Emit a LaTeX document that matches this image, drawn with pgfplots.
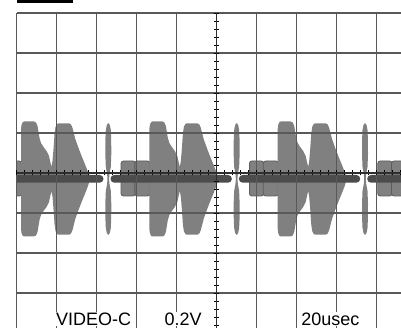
\documentclass[border=0pt]{standalone}
\usepackage{pgfplots}
\pgfplotsset{compat=1.18}
\usepackage{pgfplotstable}
\usepackage{fontspec}
\setmainfont{Liberation Sans}
\definecolor{wave}{RGB}{128,128,128}
\definecolor{band}{RGB}{76,76,76}
\definecolor{boxedge}{RGB}{92,92,92}

% one video line: burst envelope (x relative to line start, y absolute, in divisions)
\pgfplotstableread{
dx y
0 1.1
0.0125 1.2
0.0375 1.2625
0.075 1.2875
0.325 1.2875
0.375 1.2625
0.4125 1.175
0.4375 1.025
0.4625 0.875
0.5 0.75
0.5625 0.65
0.6375 0.55
0.7 0.425
0.7375 0.25
0.7625 0.15
0.7875 0.3
0.8125 0.6
0.8375 0.975
0.8625 1.15
0.9 1.225
0.9375 1.2425
1.2 1.2425
1.25 1.2125
1.2875 1.125
1.3575 0.85
1.4425 0.6125
1.525 0.4
1.6075 0.2
1.675 0.025
1.725 -0.15
1.675 -0.325
1.6075 -0.5
1.525 -0.7
1.4425 -0.9125
1.3575 -1.15
1.2875 -1.425
1.25 -1.5125
1.2 -1.5425
0.9375 -1.5425
0.9 -1.525
0.8625 -1.45
0.8375 -1.275
0.8125 -0.9
0.7875 -0.6
0.7625 -0.45
0.7375 -0.55
0.7 -0.725
0.6375 -0.85
0.5625 -0.95
0.5 -1.05
0.4625 -1.175
0.4375 -1.325
0.4125 -1.475
0.375 -1.5625
0.325 -1.5875
0.075 -1.5875
0.0375 -1.5625
0.0125 -1.5
0 -1.4
}\burst

\pgfplotstableread{
dx y
2.1825 1.25
2.22 1.2
2.245 1.075
2.255 0.85
2.2575 0.475
2.245 0.15
2.2125 -0.025
2.2025 -0.15
2.2125 -0.275
2.245 -0.45
2.2575 -0.775
2.255 -1.15
2.245 -1.375
2.22 -1.5
2.1825 -1.55
2.145 -1.5
2.12 -1.375
2.11 -1.15
2.1075 -0.775
2.12 -0.45
2.1525 -0.275
2.1625 -0.15
2.1525 -0.025
2.12 0.15
2.1075 0.475
2.11 0.85
2.12 1.075
2.145 1.2
2.1825 1.25
}\spike

\pgfplotstableread{
dx y
-0.53 0.3
-0.35 0.3
-0.35 -0.575
-0.7075 -0.575
-0.7075 0.3
-0.53 0.3
}\boxa

\pgfplotstableread{
dx y
-0.17 0.3
0.015 0.3
0.015 -0.575
-0.3625 -0.575
-0.3625 0.3
-0.17 0.3
}\boxb

\begin{document}
\begin{tikzpicture}
\useasboundingbox (0,0) rectangle (401bp,328bp);
\clip (0,0) rectangle (401bp,328bp);
\begin{axis}[
  at={(16.5bp,0bp)}, anchor=south west,
  scale only axis, width=384.5bp, height=315bp,
  xmin=-5, xmax=4.6125, ymin=-3.875, ymax=4,
  axis lines=center,
  axis line style={-, draw=black!82, line width=1.2bp},
  xtick={-5,...,5}, ytick={-4,...,4},
  minor x tick num=4, minor y tick num=4,
  xticklabels={}, yticklabels={},
  grid=major,
  major grid style={draw=black!65, line width=1.4bp},
  tick align=center,
  major tick length=5bp, minor tick length=5bp,
  tick style={black, line width=0.9bp},
  minor tick style={black, line width=0.9bp},
  axis on top,
  clip=true,
]
\pgfplotsinvokeforeach{-8.09625,-4.8875,-1.67875,1.53,4.73875}{
  \addplot[draw=boxedge, fill=wave, line width=0.8bp, rounded corners=2.5bp]
    table[x expr=\thisrow{dx}+#1, y=y] {\boxa};
  \addplot[draw=boxedge, fill=wave, line width=0.8bp, rounded corners=2.5bp]
    table[x expr=\thisrow{dx}+#1, y=y] {\boxb};
  \addplot[draw=none, fill=wave] table[x expr=\thisrow{dx}+#1, y=y] {\burst};
  \addplot[draw=none, fill=wave] table[x expr=\thisrow{dx}+#1, y=y] {\spike};
}
% dark baseline band
\addplot[draw=none, fill=band, rounded corners=3.8bp] coordinates
  {(-5.5,-0.05) (-2.825,-0.05) (-2.825,-0.2425) (-5.5,-0.2425)};
\addplot[draw=none, fill=band, rounded corners=3.8bp] coordinates
  {(-1.2,-0.05) (0.38375,-0.05) (0.38375,-0.2425) (-2.65,-0.2425) (-2.65,-0.05) (-1.2,-0.05)};
\addplot[draw=none, fill=band, rounded corners=3.8bp] coordinates
  {(2,-0.05) (3.5925,-0.05) (3.5925,-0.2425) (0.55875,-0.2425) (0.55875,-0.05) (2,-0.05)};
\addplot[draw=none, fill=band, rounded corners=3.8bp] coordinates
  {(4.2,-0.05) (5.2,-0.05) (5.2,-0.2425) (3.7675,-0.2425) (3.7675,-0.05) (4.2,-0.05)};
\end{axis}
\fill[black] (16.5bp,325.3bp) rectangle (73bp,328bp);
\node[anchor=base west, fill=white, inner sep=0.5bp, font=\fontsize{18bp}{20bp}\selectfont] at (55.5bp,3bp) {VIDEO-C};
\node[anchor=base west, fill=white, inner sep=0.5bp, font=\fontsize{18bp}{20bp}\selectfont] at (163.8bp,3bp) {0.2V};
\node[anchor=base west, fill=white, inner sep=0.5bp, font=\fontsize{18bp}{20bp}\selectfont] at (300.7bp,3bp) {20usec};
\end{tikzpicture}
\end{document}
